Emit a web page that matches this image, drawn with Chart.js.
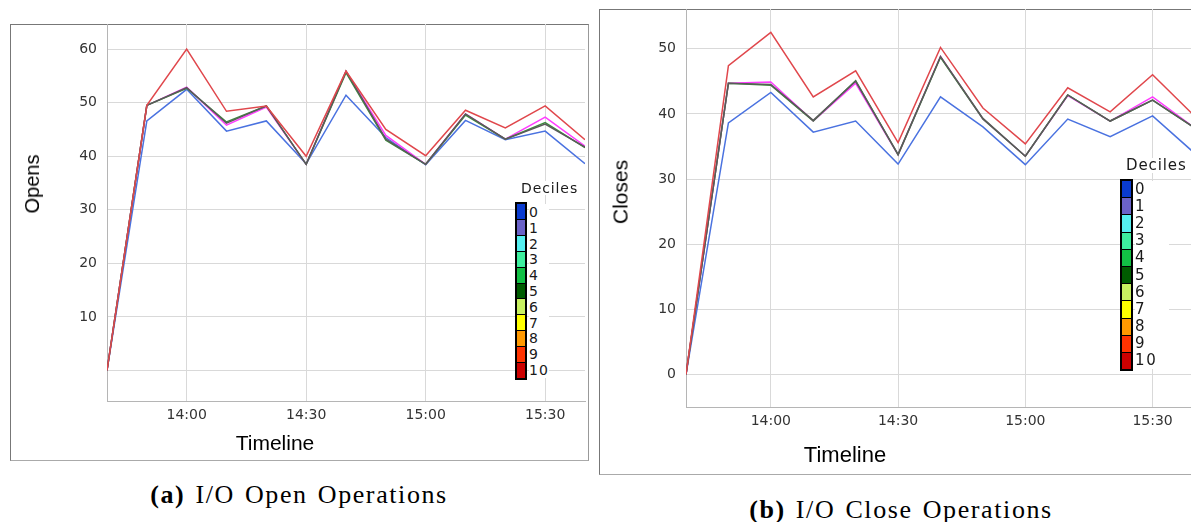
<!DOCTYPE html>
<html lang="en">
<head>
<meta charset="UTF-8" />
<title>I/O Open and Close Operations</title>
<script src="https://cdn.jsdelivr.net/npm/chart.js"></script>
<style>
  html, body { margin: 0; padding: 0; background: #fff; }
  body { width: 1191px; height: 522px; overflow: hidden; position: relative; font-family: "Liberation Sans", Arial, sans-serif; }
  .panel { position: absolute; box-sizing: border-box; border: 1px solid #777; border-right-color: #999; border-bottom-color: #aaa; }
  canvas { position: absolute; }
  .ytitle { position: absolute; transform: translate(-50%, -50%) rotate(-90deg); line-height: 1; white-space: nowrap; color: #000; }
  .xtitle { position: absolute; transform: translate(-50%, -50%); line-height: 1; white-space: nowrap; color: #000; }
  .caption { position: absolute; transform: translate(-50%, -50%); font-family: "Liberation Serif", serif; font-size: 26px; letter-spacing: 1.6px; word-spacing: 2px; white-space: nowrap; line-height: 1; color: #000; }
  .legend-title { position: absolute; font-family: "DejaVu Sans", sans-serif; color: #1a1a1a; background: #fff; line-height: 1; white-space: nowrap; }
  .legend-bar { position: absolute; box-sizing: border-box; border: 2px solid #000; background: #000; display: flex; flex-direction: column; gap: 1px; }
  .legend-bar div { flex: 1; }
  .legend-labels { position: absolute; display: flex; flex-direction: column; background: #fff; font-family: "DejaVu Sans", sans-serif; color: #1a1a1a; }
  .legend-labels div { flex: 1; display: flex; align-items: center; line-height: 1; }
</style>
</head>
<body>

<!-- (a) opens -->
<div class="panel" style="left:10px; top:24px; width:579px; height:437px;"></div>
<canvas id="opensChart" width="578" height="436" style="left:10px; top:24px;"></canvas>
<div class="ytitle" style="left:32px; top:184px; font-size:20px;">Opens</div>
<div class="xtitle" style="left:275px; top:442px; font-size:21px;">Timeline</div>
<div class="legend-title" style="left:521px; top:181px; font-size:14px; letter-spacing:0.9px;">Deciles</div>
<div id="opensBar" class="legend-bar" style="left:515px; top:202px; width:12px; height:178px;"></div>
<div id="opensLabels" class="legend-labels" style="left:529px; top:204px; width:20px; height:174px; font-size:14px; letter-spacing:1px;"></div>

<!-- (b) closes -->
<div class="panel" style="left:599px; top:9px; width:620px; height:466px;"></div>
<canvas id="closesChart" width="600" height="465" style="left:599px; top:9px;"></canvas>
<div class="ytitle" style="left:620px; top:192px; font-size:21px;">Closes</div>
<div class="xtitle" style="left:845px; top:455px; font-size:22px;">Timeline</div>
<div class="legend-title" style="left:1126px; top:158px; font-size:15px; letter-spacing:0.9px;">Deciles</div>
<div id="closesBar" class="legend-bar" style="left:1120px; top:179px; width:13px; height:192px;"></div>
<div id="closesLabels" class="legend-labels" style="left:1135px; top:181px; width:34px; height:188px; font-size:15px; letter-spacing:1.6px;"></div>

<div class="caption" style="left:299px; top:495px;"><b>(a)</b> I/O Open Operations</div>
<div class="caption" style="left:901px; top:510px;"><b>(b)</b> I/O Close Operations</div>

<script>
  // time axis: one sample every 10 minutes
  const timeLabels = ['13:40', '13:50', '14:00', '14:10', '14:20', '14:30', '14:40', '14:50', '15:00', '15:10', '15:20', '15:30', '15:40'];
  const xTickLabels = ['14:00', '14:30', '15:00', '15:30'];

  // I/O opens
  const opensTicks = [0, 10, 20, 30, 40, 50, 60];
  const opensRed     = [0, 49.5, 60.0, 48.4, 49.4, 40.0, 55.9, 45.0, 40.1, 48.6, 45.3, 49.4, 43.1];
  const opensGray    = [0, 49.5, 52.8, 46.2, 49.4, 38.5, 55.9, 43.2, 38.5, 47.9, 43.2, 46.0, 41.7];
  const opensGreen   = [0, 49.5, 52.7, 46.4, 49.4, 38.5, 55.6, 43.0, 38.5, 47.7, 43.2, 46.3, 41.6];
  const opensMagenta = [0, 49.5, 52.9, 45.8, 49.2, 38.5, 55.8, 43.9, 38.5, 47.9, 43.2, 47.3, 41.9];
  const opensBlue    = [0, 46.6, 52.5, 44.7, 46.6, 38.6, 51.4, 43.5, 38.4, 46.7, 43.1, 44.7, 38.6];

  // I/O closes
  const closesTicks = [0, 10, 20, 30, 40, 50];
  const closesRed     = [0, 47.4, 52.5, 42.6, 46.6, 35.6, 50.2, 40.9, 35.4, 44.0, 40.3, 46.0, 39.6];
  const closesGray    = [0, 44.7, 44.5, 39.0, 45.0, 33.8, 48.8, 39.3, 33.5, 42.9, 38.9, 42.1, 37.8];
  const closesGreen   = [0, 44.7, 44.4, 38.9, 45.1, 33.7, 48.7, 39.2, 33.5, 42.9, 38.9, 42.1, 37.8];
  const closesMagenta = [0, 44.7, 44.9, 38.9, 44.7, 33.7, 48.8, 39.2, 33.5, 42.8, 38.9, 42.6, 37.8];
  const closesBlue    = [0, 38.6, 43.3, 37.2, 38.9, 32.3, 42.6, 38.0, 32.2, 39.2, 36.5, 39.7, 33.9];

  // decile colour key
  const decileLabels = ['0', '1', '2', '3', '4', '5', '6', '7', '8', '9', '10'];
  const decileColors = ['#0a3bd0', '#6a62c8', '#55f0f0', '#3def9e', '#12c044', '#005c00', '#c8f060', '#ffff00', '#ff9900', '#ff3300', '#cc0000'];

  const lineColors = { red: '#e0474c', gray: '#5a5a5a', green: '#3c8c3c', magenta: '#ff3cff', blue: '#4a72e0' };

  const toMin = t => { const [h, m] = t.split(':').map(Number); return h * 60 + m; };
  const fmtMin = v => Math.floor(v / 60) + ':' + String(v % 60).padStart(2, '0');

  function series(values, color) {
    return {
      data: values.map((v, i) => ({ x: toMin(timeLabels[i]), y: v })),
      borderColor: color,
      borderWidth: 1.5,
      pointRadius: 0,
      fill: false,
      tension: 0
    };
  }

  function makeChart(id, sets, yTicks, yMin, yMax, yWidth, xHeight, rightPad, hideZero) {
    return new Chart(document.getElementById(id), {
      type: 'line',
      data: { datasets: sets },
      options: {
        responsive: false,
        animation: false,
        layout: { padding: { left: 0, right: rightPad, top: 0, bottom: 0 } },
        plugins: { legend: { display: false }, tooltip: { enabled: false } },
        scales: {
          x: {
            type: 'linear',
            min: toMin(timeLabels[0]),
            max: toMin(timeLabels[timeLabels.length - 1]),
            afterBuildTicks: s => { s.ticks = xTickLabels.map(t => ({ value: toMin(t) })); },
            afterFit: s => { s.height = xHeight; s.paddingLeft = 0; s.paddingRight = 0; },
            ticks: {
              callback: v => fmtMin(v),
              color: '#333', font: { family: 'DejaVu Sans', size: 14 },
              padding: 6, maxRotation: 0, autoSkip: false
            },
            grid: { color: '#d9d9d9', drawTicks: false },
            border: { color: '#b5b5b5' }
          },
          y: {
            min: yMin,
            max: yMax,
            afterBuildTicks: s => { s.ticks = yTicks.map(v => ({ value: v })); },
            afterFit: s => { s.width = yWidth; s.paddingTop = 0; s.paddingBottom = 0; },
            ticks: {
              callback: v => (hideZero && v === 0) ? '' : String(v),
              color: '#333', font: { family: 'DejaVu Sans', size: 14 },
              padding: 10
            },
            grid: { color: '#d9d9d9', drawTicks: false },
            border: { color: '#b5b5b5' }
          }
        }
      }
    });
  }

  makeChart('opensChart', [
    series(opensRed, lineColors.red),
    series(opensGray, lineColors.gray),
    series(opensGreen, lineColors.green),
    series(opensMagenta, lineColors.magenta),
    series(opensBlue, lineColors.blue)
  ], opensTicks, -5.7, 64.7, 97, 59, 3, true);

  makeChart('closesChart', [
    series(closesRed, lineColors.red),
    series(closesGray, lineColors.gray),
    series(closesGreen, lineColors.green),
    series(closesMagenta, lineColors.magenta),
    series(closesBlue, lineColors.blue)
  ], closesTicks, -5.0, 56.1, 87, 67, 4, false);

  function buildKey(barId, labelsId) {
    const bar = document.getElementById(barId);
    const labels = document.getElementById(labelsId);
    decileLabels.forEach((lab, i) => {
      const cell = document.createElement('div');
      cell.style.background = decileColors[i];
      bar.appendChild(cell);
      const txt = document.createElement('div');
      txt.textContent = lab;
      labels.appendChild(txt);
    });
  }
  buildKey('opensBar', 'opensLabels');
  buildKey('closesBar', 'closesLabels');
</script>
</body>
</html>
